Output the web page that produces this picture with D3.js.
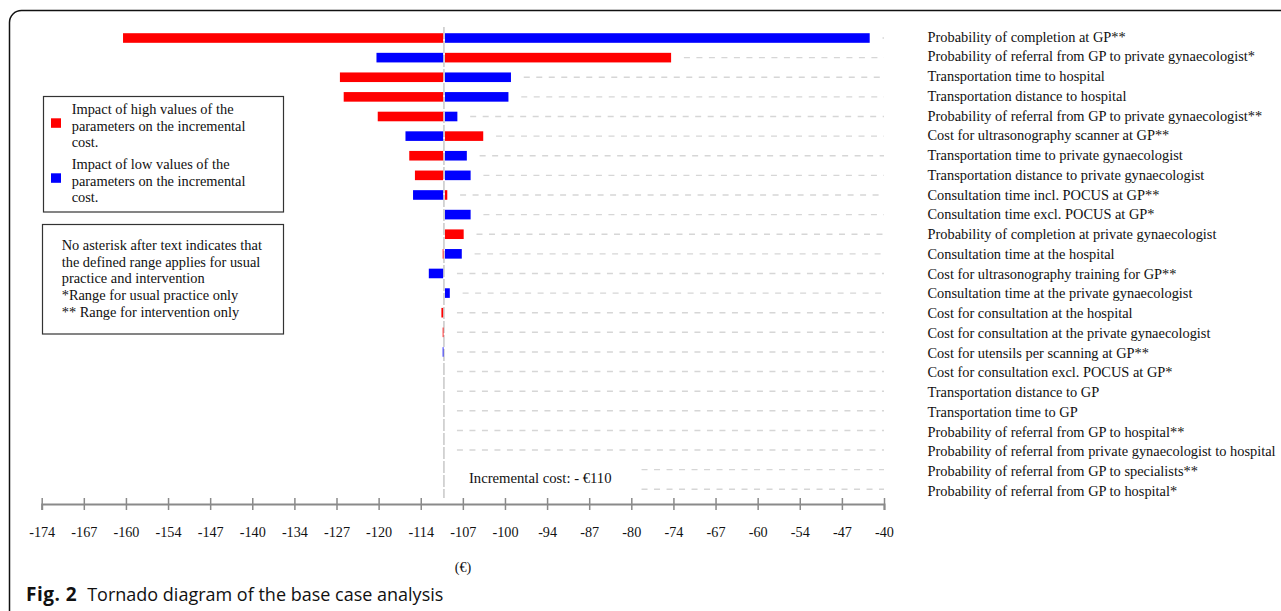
<!DOCTYPE html>
<html>
<head>
<meta charset="utf-8">
<script src="https://cdn.jsdelivr.net/npm/d3@7"></script>
<style>
  html, body { margin: 0; padding: 0; background: #fff; }
  svg { display: block; }
  .serif { font-family: "Liberation Serif", "Times New Roman", serif; fill: #111; }
</style>
</head>
<body>
<svg id="chart" width="1281" height="611"></svg>
<script>
// Parameters of the one-way sensitivity analysis, in plotting order (top to bottom)
const categories = [
  "Probability of completion at GP**",
  "Probability of referral from GP to private gynaecologist*",
  "Transportation time to hospital",
  "Transportation distance to hospital",
  "Probability of referral from GP to private gynaecologist**",
  "Cost for ultrasonography scanner at GP**",
  "Transportation time to private gynaecologist",
  "Transportation distance to private gynaecologist",
  "Consultation time incl. POCUS at GP**",
  "Consultation time excl. POCUS at GP*",
  "Probability of completion at private gynaecologist",
  "Consultation time at the hospital",
  "Cost for ultrasonography training for GP**",
  "Consultation time at the private gynaecologist",
  "Cost for consultation at the hospital",
  "Cost for consultation at the private gynaecologist",
  "Cost for utensils per scanning at GP**",
  "Cost for consultation excl. POCUS at GP*",
  "Transportation distance to GP",
  "Transportation time to GP",
  "Probability of referral from GP to hospital**",
  "Probability of referral from private gynaecologist to hospital",
  "Probability of referral from GP to specialists**",
  "Probability of referral from GP to hospital*"
];

// Incremental cost (€) when each parameter is set to its low value
const lowValues = [
  -42.5, -120.7, -99.4, -99.8, -107.9, -116.1, -106.4, -105.8,
  -114.9, -105.8, -110.0, -107.2, -112.4, -109.1, -110.0, -110.0,
  -110.2, -110.0, -110.0, -110.0, -110.0, -110.0, -110.0, -110.0
];

// Incremental cost (€) when each parameter is set to its high value
const highValues = [
  -160.9, -74.0, -126.5, -125.9, -120.5, -103.8, -115.5, -114.6,
  -109.5, -110.0, -106.9, -110.2, -110.0, -110.0, -110.4, -110.2,
  -110.0, -110.0, -110.0, -110.0, -110.0, -110.0, -110.0, -110.0
];

// Base case incremental cost (€)
const baseCost = -110;

// Axis extent and its tick labels
const axisMin = -173.8;
const axisMax = -40.2;
const tickLabels = ["-174", "-167", "-160", "-154", "-147", "-140", "-134", "-127", "-120", "-114",
  "-107", "-100", "-94", "-87", "-80", "-74", "-67", "-60", "-54", "-47", "-40"];

const legendSeries = [
  { key: "high", color: "#ff0000", lines: ["Impact of high values of the", "parameters on the incremental", "cost."] },
  { key: "low", color: "#0000ff", lines: ["Impact of low values of the", "parameters on the incremental", "cost."] }
];
const noteLines = [
  "No asterisk after text indicates that",
  "the defined range applies for usual",
  "practice and intervention",
  "*Range for usual practice only",
  "** Range for intervention only"
];

const textSize = "14.4px";
const svg = d3.select("#chart");

// Figure frame with rounded top-left corner
svg.append("rect")
  .attr("x", 9.5).attr("y", 10.5)
  .attr("width", 1320).attr("height", 612)
  .attr("rx", 12).attr("ry", 12)
  .attr("fill", "none").attr("stroke", "#111").attr("stroke-width", 1.5);

// Scales
const x = d3.scaleLinear().domain([axisMin, axisMax]).range([41.7, 884]);
const y = d3.scaleBand().domain(categories).range([28.2, 499.1]);
const yLabel = d3.scaleBand().domain(categories).range([26.8, 500.8]);
const barH = 9.6;

const rows = categories.map((c, i) => ({ name: c, low: lowValues[i], high: highValues[i] }));

// Base case annotation (placed first so dashed guides can avoid it)
const annot = svg.append("text").attr("class", "serif")
  .attr("x", x(baseCost) + 25).attr("y", 478).attr("dy", "0.35em")
  .style("font-size", "14.7px")
  .text("Incremental cost: - €110");
const ab = annot.node().getBBox();

// Dashed guide lines from the bar ends to the right edge of the plot
svg.append("g").selectAll("line").data(rows).join("line")
  .attr("x1", d => {
    const cy = y(d.name) + y.bandwidth() / 2;
    let start = x(Math.max(baseCost, d.low, d.high)) + 13;
    if (cy > ab.y - 8 && cy < ab.y + ab.height + 8) start = ab.x + ab.width + 30;
    return start;
  })
  .attr("x2", 884)
  .attr("y1", d => y(d.name) + y.bandwidth() / 2)
  .attr("y2", d => y(d.name) + y.bandwidth() / 2)
  .attr("stroke", "#d6d6d6").attr("stroke-width", 1.4)
  .attr("stroke-dasharray", "6,6.5");

// Base case vertical reference line
svg.append("line")
  .attr("x1", x(baseCost)).attr("x2", x(baseCost))
  .attr("y1", 27).attr("y2", 498)
  .attr("stroke", "#c4c4c4").attr("stroke-width", 1.4)
  .attr("stroke-dasharray", "12,2");

// Bars: low values (blue) and high values (red), drawn from the base case
const bars = svg.append("g");
function drawBars(key, color) {
  bars.append("g").selectAll("rect")
    .data(rows.filter(d => d[key] !== baseCost))
    .join("rect")
    .attr("x", d => Math.min(x(d[key]), x(baseCost)) + (d[key] > baseCost ? 1 : 0))
    .attr("width", d => Math.max(0.8, Math.abs(x(d[key]) - x(baseCost)) - 0.8))
    .attr("y", d => y(d.name) + y.bandwidth() / 2 - barH / 2)
    .attr("height", barH)
    .attr("fill", color);
}
drawBars("high", "#ff0000");
drawBars("low", "#0000ff");

// Parameter labels on the right
svg.append("g").selectAll("text").data(categories).join("text")
  .attr("class", "serif")
  .attr("x", 927.5)
  .attr("y", d => yLabel(d) + yLabel.bandwidth() / 2)
  .attr("dy", "0.35em")
  .style("font-size", textSize)
  .text(d => d);

// Horizontal axis
const tickVals = d3.range(tickLabels.length).map(i => axisMin + i * (axisMax - axisMin) / (tickLabels.length - 1));
const axis = d3.axisBottom(x)
  .tickValues(tickVals)
  .tickFormat((d, i) => tickLabels[i])
  .tickSizeOuter(0)
  .tickSize(6);
const gAxis = svg.append("g").attr("transform", "translate(0,504)").call(axis);
gAxis.select(".domain").attr("stroke", "#8a8a8a").attr("stroke-width", 2);
gAxis.selectAll(".tick line").attr("y1", -6).attr("y2", 6).attr("stroke", "#8a8a8a").attr("stroke-width", 1.5);
gAxis.selectAll(".tick text")
  .attr("class", "serif")
  .attr("y", 28).attr("dy", "0.35em")
  .style("font-size", "14.2px")
  .attr("fill", "#111");

svg.append("text").attr("class", "serif")
  .attr("x", x(baseCost) + 19).attr("y", 567).attr("dy", "0.35em")
  .attr("text-anchor", "middle")
  .style("font-size", "14.2px")
  .text("(€)");

// Legend for bar colours
svg.append("rect")
  .attr("x", 43.5).attr("y", 96.5).attr("width", 240).attr("height", 115.5)
  .attr("fill", "none").attr("stroke", "#333").attr("stroke-width", 1.2);
const legendTop = [109, 164];
legendSeries.forEach((s, k) => {
  svg.append("rect")
    .attr("x", 51).attr("y", legendTop[k] + 9.3)
    .attr("width", 10).attr("height", 9.5)
    .attr("fill", s.color);
  svg.append("g").selectAll("text").data(s.lines).join("text")
    .attr("class", "serif")
    .attr("x", 71.7)
    .attr("y", (d, i) => legendTop[k] + i * 16.7)
    .attr("dy", "0.35em")
    .style("font-size", textSize)
    .text(d => d);
});

// Note on asterisks
svg.append("rect")
  .attr("x", 42.5).attr("y", 224.5).attr("width", 241).attr("height", 109.5)
  .attr("fill", "none").attr("stroke", "#333").attr("stroke-width", 1.2);
svg.append("g").selectAll("text").data(noteLines).join("text")
  .attr("class", "serif")
  .attr("x", 61.7)
  .attr("y", (d, i) => 245 + i * 16.7)
  .attr("dy", "0.35em")
  .style("font-size", textSize)
  .text(d => d);

// Figure caption
const cap = svg.append("text")
  .attr("x", 26).attr("y", 601)
  .style("font-family", "'Open Sans', 'Noto Sans', sans-serif")
  .style("font-size", "18px")
  .attr("fill", "#111");
cap.append("tspan").style("font-weight", "bold").style("font-size", "19px").style("letter-spacing", "0.5px").text("Fig. 2");
cap.append("tspan").attr("dx", 10).text("Tornado diagram of the base case analysis");
</script>
</body>
</html>
